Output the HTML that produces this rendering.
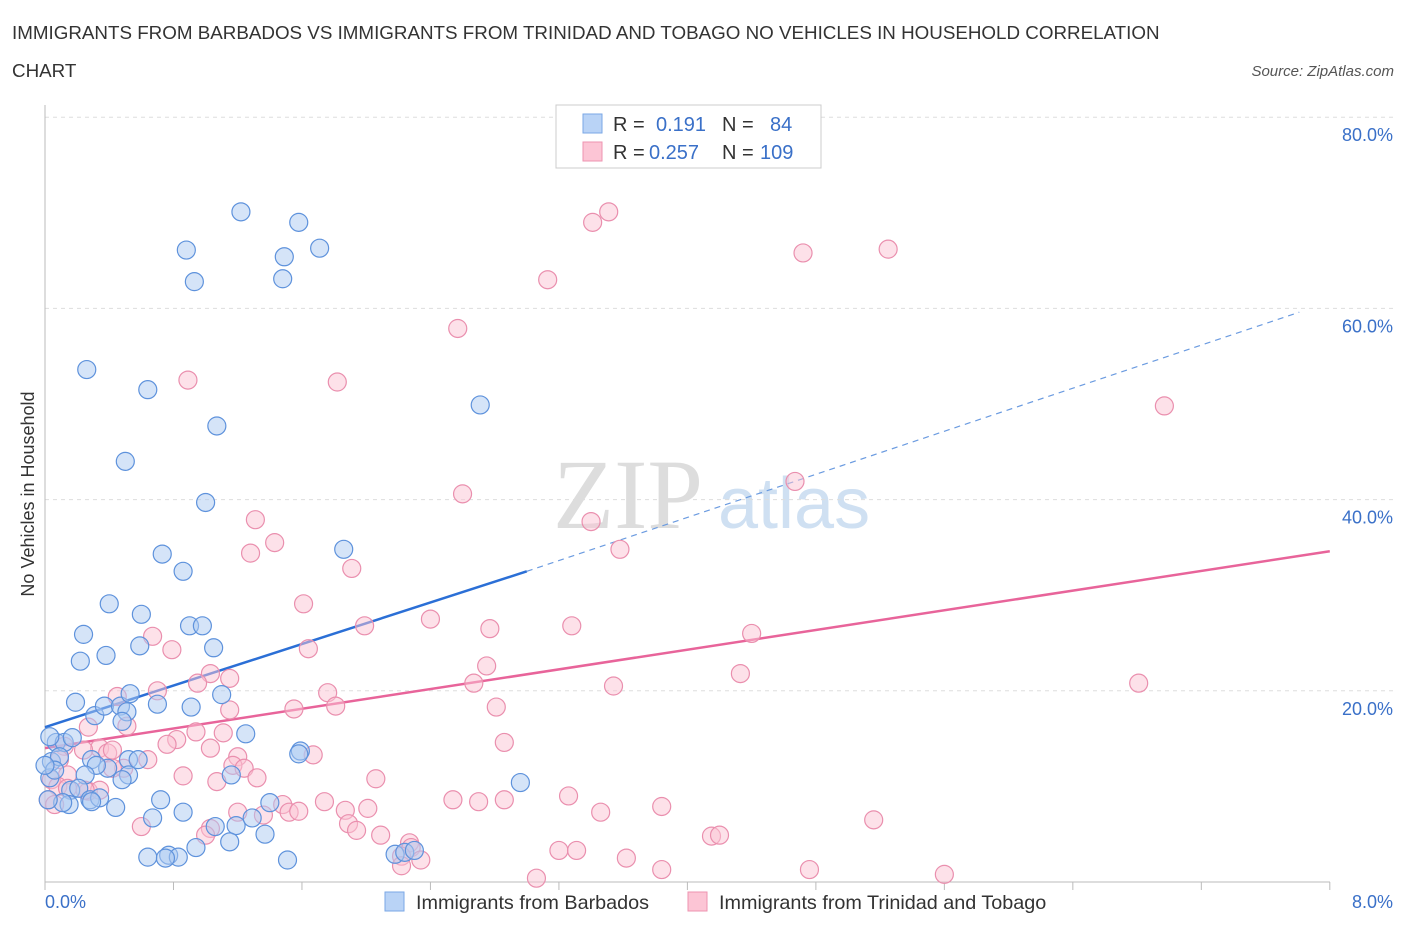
<!DOCTYPE html>
<html><head><meta charset="utf-8"><style>
body{margin:0;background:#fff;font-family:"Liberation Sans",sans-serif;}
svg{display:block}
</style></head><body>
<svg id="chart" width="1406" height="930" xmlns="http://www.w3.org/2000/svg">
<text x="12" y="39" font-size="18.8" fill="#333">IMMIGRANTS FROM BARBADOS VS IMMIGRANTS FROM TRINIDAD AND TOBAGO NO VEHICLES IN HOUSEHOLD CORRELATION</text>
<text x="12" y="77" font-size="18.8" fill="#333">CHART</text>
<text x="1394" y="76" font-size="15" fill="#555" font-style="italic" text-anchor="end">Source: ZipAtlas.com</text>
<text transform="translate(34,494) rotate(-90)" font-size="18" fill="#333" text-anchor="middle">No Vehicles in Household</text>
<g>
<text x="553" y="528" font-size="100" fill="#ddd" font-family="Liberation Serif,serif">ZIP</text>
<text x="718" y="528" font-size="72" fill="#cfe0f2">atlas</text>
</g>
<g id="grid"></g><g id="axes"></g><g id="lines"></g><g id="pts"></g>
<g>
<rect x="556" y="105" width="265" height="63" fill="#fff" stroke="#ccc"/>
<rect x="583" y="114" width="19" height="19" fill="#b9d3f6" stroke="#7aa7e6"/>
<rect x="583" y="142" width="19" height="19" fill="#fcc5d5" stroke="#ee93b0"/>
<text x="613" y="131" font-size="20" fill="#333">R = </text><text x="656" y="131" font-size="20" fill="#3a70c8">0.191</text>
<text x="722" y="131" font-size="20" fill="#333">N = </text><text x="770" y="131" font-size="20" fill="#3a70c8">84</text>
<text x="613" y="159" font-size="20" fill="#333">R = </text><text x="649" y="159" font-size="20" fill="#3a70c8">0.257</text>
<text x="722" y="159" font-size="20" fill="#333">N = </text><text x="760" y="159" font-size="20" fill="#3a70c8">109</text>
</g>
<g>
<rect x="385" y="892" width="19" height="19" fill="#b9d3f6" stroke="#7aa7e6"/>
<text x="416" y="909" font-size="19.8" fill="#333">Immigrants from Barbados</text>
<rect x="688" y="892" width="19" height="19" fill="#fcc5d5" stroke="#ee93b0"/>
<text x="719" y="909" font-size="19.8" fill="#333">Immigrants from Trinidad and Tobago</text>
</g>
</svg>
<script>
const blueX=[1.22,1.58,0.88,1.49,1.71,0.93,1.48,0.26,0.64,2.71,1.07,0.50,1.00,0.73,1.86,0.86,0.40,0.60,0.24,0.90,0.98,0.59,1.05,0.22,0.38,0.19,0.31,0.37,0.47,0.51,0.70,1.10,0.91,0.48,0.53,1.25,0.07,0.12,0.17,0.03,1.59,1.58,0.04,0.09,0.29,0.39,0.52,0.58,0.32,0.03,0.25,0.52,0.48,1.16,2.96,0.16,0.21,0.28,0.34,0.72,0.44,0.15,0.29,0.86,0.67,1.40,1.06,1.19,1.29,1.37,1.15,0.94,0.64,0.77,0.83,0.75,1.51,2.18,2.24,2.30,0.06,0.11,0.00,0.02];
const blueY=[70.1,69.0,66.1,65.4,66.3,62.8,63.1,53.6,51.5,49.9,47.7,44.0,39.7,34.3,34.8,32.5,29.1,28.0,25.9,26.8,26.8,24.7,24.5,23.1,23.7,18.8,17.4,18.4,18.4,17.8,18.6,19.6,18.3,16.8,19.7,15.5,14.6,14.6,15.1,15.2,13.7,13.4,12.6,13.1,12.8,11.9,12.8,12.8,12.2,10.9,11.2,11.2,10.7,11.2,10.4,9.6,9.8,8.6,8.8,8.6,7.8,8.1,8.4,7.3,6.7,8.3,5.8,5.9,6.7,5.0,4.2,3.6,2.6,2.8,2.6,2.5,2.3,2.9,3.1,3.3,11.7,8.3,12.2,8.6];
const pinkX=[3.51,3.41,4.72,5.25,3.13,2.57,0.89,1.82,6.97,4.67,2.60,1.31,3.40,3.58,1.28,1.43,1.91,1.61,2.40,1.99,2.77,3.28,4.40,0.67,0.79,1.64,2.75,2.67,3.54,4.33,6.81,1.03,1.15,0.95,0.70,0.45,1.76,1.81,1.55,2.81,1.15,0.51,0.27,0.94,1.11,0.82,0.76,1.03,2.86,0.34,0.39,0.42,0.24,0.12,0.09,1.20,0.64,1.17,1.24,0.49,1.67,1.32,2.06,0.86,1.07,0.42,0.14,0.04,0.08,0.02,0.06,0.14,0.27,0.34,1.74,2.01,1.87,1.48,1.52,1.58,1.20,2.54,2.70,2.86,3.26,3.46,3.84,1.36,1.03,0.60,1.00,1.89,1.94,2.09,2.27,2.28,2.22,2.34,2.22,3.20,3.31,3.62,4.15,4.20,5.16,3.84,4.76,5.60,3.06,0.25];
const pinkY=[70.1,69.0,65.8,66.2,63.0,57.9,52.5,52.3,49.8,41.9,40.6,37.9,37.7,34.8,34.4,35.5,32.8,29.1,27.5,26.8,26.5,26.8,26.0,25.7,24.3,24.4,22.6,20.8,20.5,21.8,20.8,21.8,21.3,20.8,20.0,19.4,19.8,18.4,18.1,18.3,18.0,16.3,16.2,15.7,15.6,14.9,14.4,14.0,14.6,14.0,13.5,13.8,13.8,14.2,12.8,13.1,12.8,12.2,11.9,11.9,13.3,10.9,10.8,11.1,10.5,11.9,11.2,10.7,10.0,8.6,8.1,9.8,9.5,9.6,8.4,7.7,7.5,8.1,7.3,7.4,7.3,8.6,8.4,8.6,9.0,7.3,7.9,7.0,5.6,5.8,4.9,6.1,5.4,4.9,4.1,3.6,2.7,2.3,1.7,3.3,3.3,2.5,4.8,4.9,6.5,1.3,1.3,0.8,0.4,9.6];
const blueTrend=[[0,16.2],[3.0,32.5],[7.81,59.6]];
const pinkTrend=[[0,14.0],[8.0,34.6]];
const yTicks=[20,40,60,80];
const yTickLabels=["20.0%","40.0%","60.0%","80.0%"];
const xTicks=[0,0.8,1.6,2.4,3.2,4.0,4.8,5.6,6.4,7.2,8.0];
const NS="http://www.w3.org/2000/svg";
const X=v=>45+v*160.6, Y=v=>882-v*9.56;
function mk(t,a,p){const e=document.createElementNS(NS,t);for(const k in a)e.setAttribute(k,a[k]);document.getElementById(p).appendChild(e);return e;}
yTicks.forEach((t,i)=>{
 const l=mk('line',{x1:45,x2:1395,y1:Y(t),y2:Y(t),stroke:'#ddd','stroke-dasharray':'4,4'},'grid');
 
 
 const tx=mk('text',{x:1393,y:Y(t)+24,'font-size':18,fill:'#3a70c8','text-anchor':'end'},'grid');
 tx.textContent=yTickLabels[i];
 
 
});
mk('line',{x1:45,x2:45,y1:105,y2:882,stroke:'#bbb'},'axes');
mk('line',{x1:45,x2:1330,y1:882,y2:882,stroke:'#bbb'},'axes');
xTicks.forEach(t=>{const l=mk('line',{x1:X(t),x2:X(t),y1:882,y2:890,stroke:'#bbb'},'axes');
 
 });
const xl0=mk('text',{x:45,y:908,'font-size':18,fill:'#3a70c8'},'axes');xl0.textContent='0.0%';


const xl1=mk('text',{x:1393,y:908,'font-size':18,fill:'#3a70c8','text-anchor':'end'},'axes');xl1.textContent='8.0%';


function dot(x,y,fill,stroke,name){const c=mk('circle',{cx:X(x),cy:Y(y),r:9,fill:fill,'fill-opacity':0.5,stroke:stroke,'stroke-width':1.2},'pts');
 
 }
pinkX.forEach((x,i)=>dot(x,pinkY[i],'#fbc3d3','#ea8fae','pink-point'));
blueX.forEach((x,i)=>dot(x,blueY[i],'#abc9f2','#5e92dc','blue-point'));
const bl=mk('line',{x1:X(blueTrend[0][0]),y1:Y(blueTrend[0][1]),x2:X(blueTrend[1][0]),y2:Y(blueTrend[1][1]),stroke:'#2b6fd6','stroke-width':2.5},'lines');


const bd=mk('line',{x1:X(blueTrend[1][0]),y1:Y(blueTrend[1][1]),x2:X(blueTrend[2][0]),y2:Y(blueTrend[2][1]),stroke:'#6b9be0','stroke-width':1.2,'stroke-dasharray':'6,5'},'lines');


const pl=mk('line',{x1:X(pinkTrend[0][0]),y1:Y(pinkTrend[0][1]),x2:X(pinkTrend[1][0]),y2:Y(pinkTrend[1][1]),stroke:'#e8649a','stroke-width':2.5},'lines');


</script>
</body></html>
